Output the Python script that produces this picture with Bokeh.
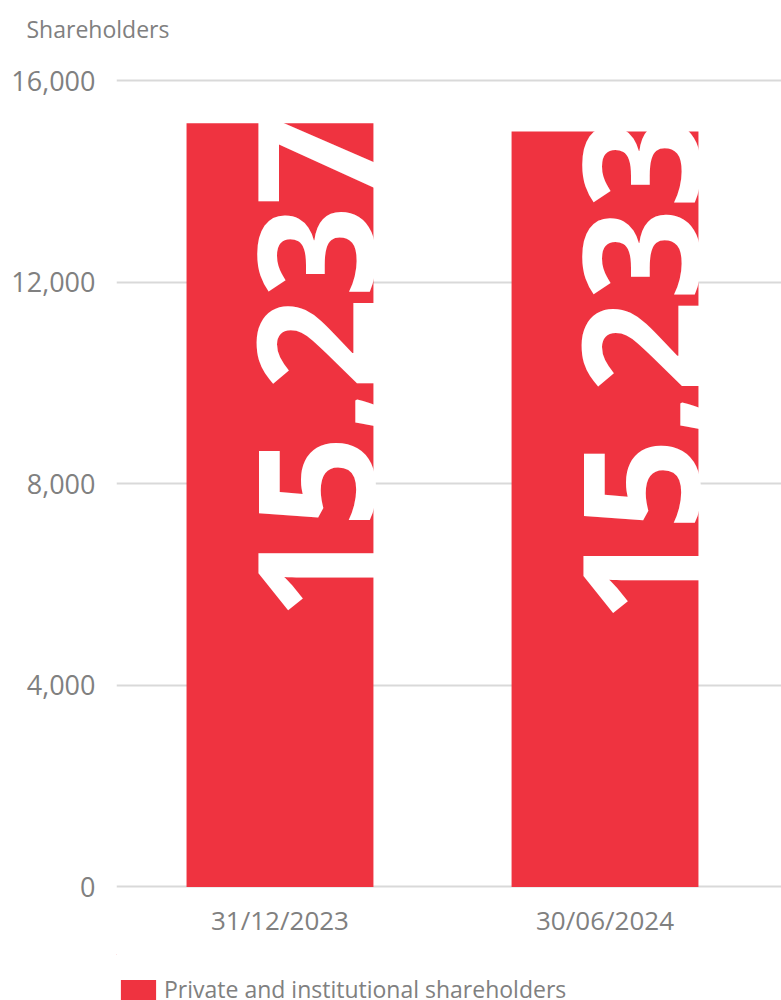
import math
from bokeh.plotting import figure
from bokeh.layouts import column
from bokeh.models import (Range1d, FixedTicker, NumeralTickFormatter, Legend,
                          LegendItem, ColumnDataSource)
from bokeh.embed import file_html
from bokeh.resources import INLINE
from bokeh.core.properties import value

# ---- data ----
categories = ["31/12/2023", "30/06/2024"]
shareholders = [15150, 14990]
value_labels = ["15,237", "15,233"]
y_ticks = [0, 4000, 8000, 12000, 16000]
series_name = "Private and institutional shareholders"
axis_title = "Shareholders"

# ---- style ----
RED = "#ef3340"
GREY = "#808080"
GRID = "#d9d9d9"
FONT = "Open Sans"
BAR_W = 0.575
LABEL_FRAC = 0.350
W = 781

xs = [i + 1 for i in range(len(categories))]
src = ColumnDataSource(dict(
    x=xs, top=shareholders, lab=value_labels,
    lx=[x + BAR_W / 2 for x in xs],
    ly=[v * LABEL_FRAC for v in shareholders],
))

# ---- main chart ----
p = figure(width=W, height=954, output_backend="svg", toolbar_location=None,
           x_range=Range1d(0.497, 2.543), y_range=Range1d(-148.8, 16496),
           min_border_left=116, min_border_right=0, min_border_top=55,
           min_border_bottom=60)
p.outline_line_color = None
p.background_fill_color = "white"
p.border_fill_color = "white"

bars = p.vbar(x="x", top="top", width=BAR_W, source=src,
              fill_color=RED, line_color=None)

p.text(x="lx", y="ly", text="lab", source=src, angle=math.pi / 2,
       x_offset=-57,
       text_align="left", text_baseline="alphabetic", text_color="white",
       text_font=value(FONT), text_font_style="bold", text_font_size="161px")

# title (axis caption)
p.title.text = axis_title
p.title.text_font = FONT
p.title.text_font_size = "23px"
p.title.text_font_style = "normal"
p.title.text_color = GREY
p.title.align = "left"
p.title.offset = -90
if "standoff" in p.title.properties():
    p.title.standoff = 21

# y axis
yax = p.yaxis[0]
yax.ticker = FixedTicker(ticks=y_ticks)
yax.formatter = NumeralTickFormatter(format="0,0")
yax.major_label_text_font = FONT
yax.major_label_text_font_size = "27px"
yax.major_label_text_color = GREY
yax.axis_line_color = None
yax.major_tick_line_color = None
yax.minor_tick_line_color = None
yax.major_tick_out = 0
yax.major_tick_in = 0
yax.major_label_standoff = 21

# x axis
xax = p.xaxis[0]
xax.ticker = FixedTicker(ticks=xs)
xax.major_label_overrides = {x: c for x, c in zip(xs, categories)}
xax.major_label_text_font = FONT
xax.major_label_text_font_size = "26px"
xax.major_label_text_color = GREY
xax.axis_line_color = None
xax.major_tick_line_color = None
xax.minor_tick_line_color = None
xax.major_tick_out = 0
xax.major_tick_in = 0
xax.major_label_standoff = 7

p.xgrid.grid_line_color = None
p.ygrid.ticker = FixedTicker(ticks=y_ticks)
p.ygrid.grid_line_color = GRID
p.ygrid.grid_line_width = 2

# ---- legend strip (same series; its bars fall outside this strip's ranges) ----
pleg = figure(width=W, height=46, output_backend="svg", toolbar_location=None,
              x_axis_location=None, y_axis_location=None, min_border=0,
              x_range=Range1d(10, 11), y_range=Range1d(-2, -1))
pleg.outline_line_color = None
pleg.grid.visible = False
swatch = pleg.vbar(x="x", top="top", width=BAR_W, source=src,
                   fill_color=RED, line_color=None)
legend = Legend(items=[LegendItem(label=series_name, renderers=[swatch])],
                location=(0, -5), orientation="horizontal",
                glyph_width=44, glyph_height=25, label_standoff=4,
                label_text_font=FONT, label_text_font_size="23px",
                label_text_color=GREY, padding=0, margin=0, spacing=0,
                border_line_color=None, background_fill_alpha=0)
pleg.add_layout(legend)

layout = column(p, pleg, spacing=0)
open("out.html", "w").write(file_html(layout, INLINE))
